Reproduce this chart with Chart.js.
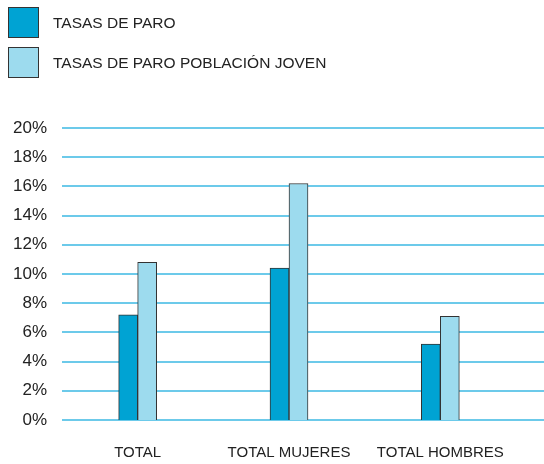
<!DOCTYPE html>
<html>
<head>
<meta charset="utf-8">
<script src="https://cdn.jsdelivr.net/npm/chart.js@4"></script>
<style>
  html, body { margin: 0; padding: 0; background: #fff; }
  #wrap { position: relative; width: 544px; height: 464px; }
  #legend { position: absolute; left: 8px; top: 7px; font-family: "Liberation Sans", Arial, sans-serif; font-size: 15.5px; color: #222; }
  .item { display: flex; align-items: center; height: 31px; margin-bottom: 9px; }
  .box { width: 29px; height: 29px; border: 1px solid #333; margin-right: 14px; }
</style>
</head>
<body>
<div id="wrap">
  <canvas id="chart" width="544" height="464"></canvas>
  <div id="legend"></div>
</div>
<script>
const categories = ['TOTAL', 'TOTAL MUJERES', 'TOTAL HOMBRES'];
const seriesNames = ['TASAS DE PARO', 'TASAS DE PARO POBLACIÓN JOVEN'];
const tasasParo = [7.2, 10.4, 5.2];
const tasasJoven = [10.8, 16.2, 7.1];
const colors = ['#00a3d3', '#9ddbee'];

// grid lines run from the chart area to the right edge of the canvas
const gridLines = {
  id: 'gridLines',
  beforeDatasetsDraw(chart) {
    const ctx = chart.ctx;
    const y = chart.scales.y;
    ctx.save();
    ctx.strokeStyle = '#6ccaea';
    ctx.lineWidth = 2;
    y.ticks.forEach(t => {
      const py = Math.round(y.getPixelForValue(t.value));
      ctx.beginPath();
      ctx.moveTo(chart.chartArea.left, py);
      ctx.lineTo(chart.width, py);
      ctx.stroke();
    });
    ctx.restore();
  }
};

const chart = new Chart(document.getElementById('chart'), {
  type: 'bar',
  data: {
    labels: categories,
    datasets: [
      { label: seriesNames[0], data: tasasParo, backgroundColor: colors[0], borderColor: '#333', borderWidth: 1, barThickness: 19 },
      { label: seriesNames[1], data: tasasJoven, backgroundColor: colors[1], borderColor: '#333', borderWidth: 1, barThickness: 19 }
    ]
  },
  options: {
    responsive: false,
    animation: false,
    layout: { padding: { top: 128, right: 28, bottom: 0, left: 0 } },
    plugins: { legend: { display: false }, tooltip: { enabled: false } },
    scales: {
      x: {
        grid: { display: false, drawTicks: false },
        border: { display: false },
        afterFit(scale) { scale.height = 44; },
        ticks: { color: '#222', font: { family: 'Liberation Sans', size: 15 }, padding: 24, maxRotation: 0, autoSkip: false }
      },
      y: {
        min: 0,
        max: 20,
        grid: { display: false, drawTicks: false },
        border: { display: false },
        afterFit(scale) { scale.width = 62; },
        ticks: {
          stepSize: 2,
          padding: 15,
          color: '#222',
          font: { family: 'Liberation Sans', size: 17 },
          callback: v => v + '%'
        }
      }
    }
  },
  plugins: [gridLines]
});

// legend built from the chart datasets
const legend = document.getElementById('legend');
chart.data.datasets.forEach(ds => {
  const item = document.createElement('div');
  item.className = 'item';
  const box = document.createElement('div');
  box.className = 'box';
  box.style.background = ds.backgroundColor;
  const label = document.createElement('span');
  label.textContent = ds.label;
  item.appendChild(box);
  item.appendChild(label);
  legend.appendChild(item);
});
</script>
</body>
</html>
